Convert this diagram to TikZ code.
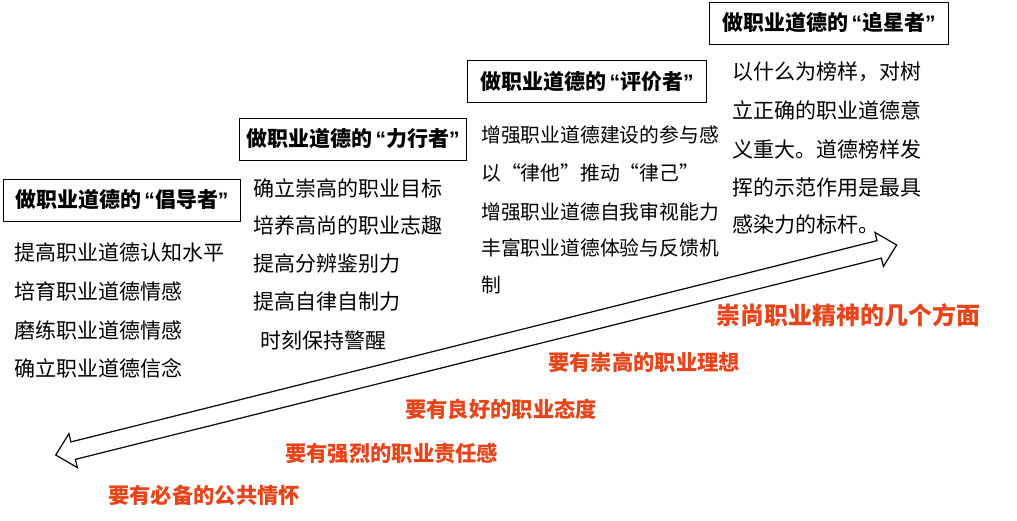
\documentclass[tikz,border=0pt]{standalone}
\usepackage{fontspec}
\setmainfont{Noto Sans CJK SC}
\newfontfamily\quotefont{Liberation Sans}
\usetikzlibrary{positioning}
\definecolor{aspectred}{RGB}{232,68,26}
\newcommand{\openq}{\hspace{3pt}{\quotefont\bfseries “}}
\newcommand{\closeq}{{\quotefont\bfseries ”}}

\begin{document}
\begin{tikzpicture}[x=1pt,y=-1pt,
    titlebox/.style={draw,line width=1pt,anchor=west,inner xsep=11pt,minimum height=42pt,
        font=\fontsize{21}{25}\selectfont\bfseries},
    body/.style={anchor=west,inner sep=0pt,font=\fontsize{21}{25}\selectfont},
    aspect/.style={anchor=west,inner sep=0pt,text=aspectred,font=\fontsize{21.3}{25}\selectfont\bfseries}]
    \useasboundingbox (0,0) rectangle (1017,520);

    % four roles
    \foreach \x/\y/\s/\i/\t in {3/200/12/1/倡导者,239/139/7/2/力行者,467/81.5/13/3/评价者,709/23/13/4/追星者}{
        \node[titlebox,inner xsep=\s pt] (t\i) at (\x,\y) {做职业道德的\openq\t\closeq};
    }

    % what each role does
    \foreach \y/\i/\t in {252/1/提高职业道德认知水平,291/2/培育职业道德情感,330/3/磨练职业道德情感,368/4/确立职业道德信念}{
        \node[body] (a\i) at (14,\y) {\t};
    }
    \foreach \x/\y/\i/\t in {253/188/1/确立崇高的职业目标,253/225/2/培养高尚的职业志趣,253/264/3/提高分辨鉴别力,253/302/4/提高自律自制力,260/340/5/时刻保持警醒}{
        \node[body] (b\i) at (\x,\y) {\t};
    }
    \foreach \y/\i/\t in {135/1/增强职业道德建设的参与感,173/2/以“律他”推动“律己”,212/3/增强职业道德自我审视能力,248/4/丰富职业道德体验与反馈机,285/5/制}{
        \node[body,font=\fontsize{19.8}{24}\selectfont] (c\i) at (481,\y) {\t};
    }
    \foreach \y/\i/\t in {72/1/以什么为榜样，对树,110/2/立正确的职业道德意,149/3/义重大。道德榜样发,188/4/挥的示范作用是最具,225/5/感染力的标杆。}{
        \node[body] (d\i) at (732,\y) {\t};
    }

    % the double arrow
    \begin{scope}[shift={(55.7,455)},rotate=14.02]
        \draw[line width=1.2pt] (0,0) -- (18,-17.5) -- (18,-9) -- (848.8,-9) -- (848.8,-17.5)
            -- (866.8,0) -- (848.8,17.5) -- (848.8,9) -- (18,9) -- (18,17.5) -- cycle;
    \end{scope}

    % aspects
    \node[aspect,font=\fontsize{24}{28}\selectfont\bfseries] (main) at (716,315) {崇尚职业精神的几个方面};
    \foreach \x/\y/\i/\t in {548/362/1/要有崇高的职业理想,405/409/2/要有良好的职业态度,285/453/3/要有强烈的职业责任感,108/495/4/要有必备的公共情怀}{
        \node[aspect] (r\i) at (\x,\y) {\t};
    }
\end{tikzpicture}
\end{document}
